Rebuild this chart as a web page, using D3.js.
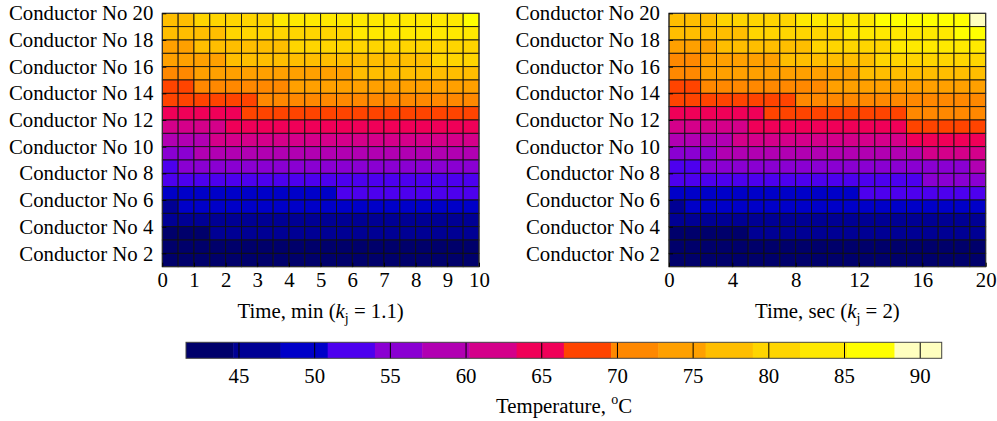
<!DOCTYPE html>
<html>
<head>
<meta charset="utf-8">
<script src="https://cdn.jsdelivr.net/npm/d3@7/dist/d3.min.js"></script>
<style>
  body { margin: 0; background: #fff; }
  svg { display: block; font-family: "Liberation Serif", "Times New Roman", serif; }
</style>
</head>
<body>
<div id="chart"></div>
<script>
// conductor numbers at the grid vertices (pcolor style, 19 cell rows)
const conductors = [1, 2, 3, 4, 5, 6, 7, 8, 9, 10, 11, 12, 13, 14, 15, 16, 17, 18, 19, 20];
const conductorTicks = [2, 4, 6, 8, 10, 12, 14, 16, 18, 20];

// time vertices for the two maps
const timeMin = [0, 0.5, 1, 1.5, 2, 2.5, 3, 3.5, 4, 4.5, 5, 5.5, 6, 6.5, 7, 7.5, 8, 8.5, 9, 9.5, 10];
const timeSec = [0, 1, 2, 3, 4, 5, 6, 7, 8, 9, 10, 11, 12, 13, 14, 15, 16, 17, 18, 19, 20];
const timeMinTicks = [0, 1, 2, 3, 4, 5, 6, 7, 8, 9, 10];
const timeSecTicks = [0, 4, 8, 12, 16, 20];

// temperatures, first row = top of the map (conductor 19-20), last row = conductor 1-2
const tempMin = [
  [77.2, 78.4, 79.3, 79.9, 80.5, 81.0, 81.6, 82.3, 82.7, 83.0, 83.3, 83.6, 83.8, 84.0, 84.2, 84.4, 84.6, 84.8, 85.0, 85.4],
  [76.3, 77.1, 77.9, 78.6, 79.2, 79.7, 80.1, 80.5, 80.9, 81.2, 81.5, 81.9, 82.2, 82.5, 82.8, 83.0, 83.3, 83.5, 83.7, 83.9],
  [74.6, 75.5, 76.2, 76.8, 77.3, 77.8, 78.3, 78.8, 79.1, 79.4, 79.7, 80.0, 80.3, 80.5, 80.7, 81.0, 81.2, 81.4, 81.6, 81.8],
  [73.1, 74.0, 74.8, 75.5, 76.1, 76.5, 76.9, 77.2, 77.5, 77.7, 77.9, 78.1, 78.3, 78.4, 78.6, 78.7, 78.8, 79.1, 79.3, 79.5],
  [70.8, 72.0, 73.0, 73.6, 74.0, 74.4, 74.7, 74.9, 75.1, 75.3, 75.5, 75.7, 76.0, 76.2, 76.4, 76.6, 76.8, 77.0, 77.1, 77.3],
  [67.4, 69.0, 69.9, 70.6, 71.2, 71.7, 72.1, 72.5, 72.9, 73.2, 73.5, 73.8, 74.0, 74.2, 74.4, 74.6, 74.8, 75.0, 75.2, 75.4],
  [66.7, 67.3, 67.9, 68.4, 68.9, 69.3, 69.7, 70.0, 70.3, 70.6, 70.9, 71.1, 71.3, 71.5, 71.7, 71.9, 72.0, 72.2, 72.3, 72.5],
  [63.6, 64.4, 65.1, 65.7, 66.2, 66.6, 66.9, 67.2, 67.5, 67.7, 67.9, 68.1, 68.3, 68.5, 68.6, 68.8, 68.9, 69.1, 69.2, 69.4],
  [60.6, 61.6, 62.4, 63.0, 63.5, 63.9, 64.2, 64.5, 64.7, 64.9, 65.1, 65.3, 65.4, 65.6, 65.7, 65.8, 65.9, 66.0, 66.1, 66.2],
  [57.8, 58.9, 59.8, 60.5, 60.9, 61.2, 61.5, 61.7, 61.9, 62.1, 62.3, 62.4, 62.5, 62.6, 62.7, 62.8, 62.9, 63.0, 63.1, 63.2],
  [55.2, 56.6, 57.4, 57.8, 58.1, 58.4, 58.6, 58.8, 59.0, 59.1, 59.2, 59.3, 59.4, 59.5, 59.6, 59.7, 59.8, 59.9, 60.0, 60.1],
  [52.8, 54.3, 54.8, 55.2, 55.5, 55.7, 55.9, 56.0, 56.1, 56.2, 56.3, 56.4, 56.5, 56.6, 56.6, 56.7, 56.7, 56.8, 56.8, 56.9],
  [51.2, 51.8, 52.2, 52.5, 52.7, 52.9, 53.0, 53.1, 53.2, 53.3, 53.4, 53.4, 53.5, 53.5, 53.6, 53.6, 53.7, 53.7, 53.8, 53.8],
  [48.3, 48.9, 49.3, 49.6, 49.8, 50.0, 50.1, 50.2, 50.3, 50.4, 50.6, 51.0, 51.1, 51.2, 51.3, 51.4, 51.5, 51.6, 51.7, 51.8],
  [46.9, 47.9, 48.3, 48.6, 48.8, 49.0, 49.1, 49.2, 49.3, 49.4, 49.5, 49.6, 49.6, 49.7, 49.7, 49.8, 49.8, 49.9, 49.9, 50.0],
  [45.0, 45.5, 45.8, 46.0, 46.2, 46.3, 46.4, 46.5, 46.6, 46.7, 46.7, 46.8, 46.8, 46.9, 46.9, 47.0, 47.0, 47.1, 47.1, 47.2],
  [43.4, 44.0, 44.4, 44.8, 45.0, 45.2, 45.3, 45.4, 45.5, 45.6, 45.6, 45.7, 45.7, 45.8, 45.8, 45.9, 45.9, 46.0, 46.0, 46.1],
  [42.2, 42.6, 42.9, 43.1, 43.3, 43.4, 43.5, 43.6, 43.7, 43.8, 43.8, 43.9, 43.9, 44.0, 44.0, 44.1, 44.1, 44.2, 44.2, 44.3],
  [41.6, 41.8, 42.0, 42.1, 42.2, 42.3, 42.4, 42.5, 42.5, 42.6, 42.6, 42.7, 42.7, 42.8, 42.8, 42.9, 42.9, 43.0, 43.0, 43.1]
];

const tempSec = [
  [76.4, 77.6, 78.6, 79.3, 79.9, 80.5, 81.0, 81.6, 82.3, 82.9, 83.5, 84.0, 84.6, 85.4, 86.1, 86.7, 87.2, 87.7, 88.1, 88.8],
  [76.0, 76.8, 77.5, 78.1, 78.7, 79.2, 79.7, 80.2, 80.7, 81.2, 81.7, 82.2, 82.7, 83.2, 83.7, 84.2, 84.6, 85.0, 85.5, 86.0],
  [74.2, 75.0, 75.6, 76.2, 76.8, 77.3, 77.8, 78.3, 78.8, 79.3, 79.8, 80.3, 80.8, 81.4, 82.2, 82.6, 83.0, 83.4, 83.8, 84.2],
  [71.0, 72.2, 73.0, 73.7, 74.3, 74.9, 75.5, 76.1, 76.7, 77.2, 77.7, 78.2, 78.7, 79.2, 79.7, 80.2, 80.7, 81.1, 81.5, 81.9],
  [70.2, 71.6, 72.9, 73.4, 73.8, 74.1, 74.4, 74.7, 75.0, 75.2, 75.5, 75.7, 76.0, 76.4, 76.8, 77.2, 77.6, 78.0, 78.3, 78.6],
  [67.2, 68.8, 69.8, 70.3, 70.8, 71.2, 71.6, 72.0, 72.3, 72.6, 73.0, 73.4, 73.8, 74.2, 74.5, 74.8, 75.1, 75.3, 75.5, 75.7],
  [66.6, 67.1, 67.6, 68.0, 68.4, 68.8, 69.1, 69.4, 69.7, 70.0, 70.3, 70.6, 70.9, 71.2, 71.4, 71.7, 71.9, 72.1, 72.3, 72.5],
  [63.5, 64.2, 64.8, 65.3, 65.8, 66.2, 66.6, 67.0, 67.4, 67.8, 68.1, 68.5, 68.8, 69.1, 69.4, 69.7, 70.0, 70.3, 70.6, 70.9],
  [60.5, 61.3, 62.0, 62.6, 63.1, 63.5, 63.9, 64.3, 64.7, 65.0, 65.3, 65.6, 65.9, 66.1, 66.3, 66.6, 66.9, 67.2, 67.5, 67.8],
  [57.5, 58.4, 59.2, 59.9, 60.5, 60.9, 61.3, 61.6, 61.9, 62.2, 62.4, 62.6, 62.8, 63.0, 63.2, 63.5, 63.8, 64.1, 64.4, 64.7],
  [54.6, 55.7, 56.7, 57.4, 57.9, 58.3, 58.6, 58.9, 59.1, 59.3, 59.5, 59.6, 59.8, 59.9, 60.0, 60.1, 60.5, 60.8, 61.1, 61.4],
  [52.4, 53.5, 54.2, 54.6, 54.9, 55.2, 55.4, 55.6, 55.8, 56.0, 56.1, 56.2, 56.3, 56.4, 56.5, 56.6, 56.7, 56.8, 56.9, 57.3],
  [51.1, 51.5, 51.8, 52.1, 52.4, 52.6, 52.8, 53.0, 53.1, 53.2, 53.3, 53.4, 53.5, 53.6, 53.7, 53.8, 54.2, 54.4, 54.6, 54.8],
  [48.2, 48.8, 49.2, 49.5, 49.8, 50.0, 50.1, 50.2, 50.3, 50.4, 50.5, 50.6, 51.0, 51.2, 51.4, 51.6, 51.8, 52.0, 52.2, 52.4],
  [47.0, 48.0, 48.5, 48.8, 49.0, 49.2, 49.3, 49.4, 49.5, 49.6, 49.7, 49.8, 49.9, 50.0, 50.1, 50.2, 50.3, 50.4, 50.5, 50.6],
  [44.9, 45.4, 45.7, 45.9, 46.1, 46.2, 46.3, 46.4, 46.5, 46.6, 46.7, 46.8, 46.9, 47.0, 47.1, 47.2, 47.3, 47.4, 47.5, 47.6],
  [43.2, 43.7, 44.0, 44.3, 44.5, 44.8, 45.0, 45.2, 45.3, 45.4, 45.5, 45.6, 45.7, 45.8, 45.9, 46.0, 46.1, 46.2, 46.3, 46.4],
  [42.0, 42.4, 42.7, 42.9, 43.1, 43.3, 43.4, 43.5, 43.6, 43.7, 43.8, 43.9, 44.0, 44.0, 44.1, 44.1, 44.2, 44.2, 44.3, 44.3],
  [41.6, 41.8, 42.0, 42.1, 42.2, 42.3, 42.4, 42.5, 42.5, 42.6, 42.7, 42.7, 42.8, 42.8, 42.9, 42.9, 43.0, 43.0, 43.1, 43.1]
];

// colour bar: 16 flat levels between the limits
const tempLimits = [41.5, 91.42];
const levelColors = ["#00006b", "#000094", "#0000c8", "#4d00ee", "#8a00d2", "#b100b2", "#d4008a", "#f00058",
                     "#ff4400", "#ff8800", "#ffa000", "#ffbe00", "#ffd500", "#ffe900", "#ffff00", "#ffffbf"];
const colorbarTicks = [45, 50, 55, 60, 65, 70, 75, 80, 85, 90];

const W = 997, H = 421;
const plotTop = 13.3, plotBottom = 266.7;
const fontSize = 20.8;

const svg = d3.select("#chart")
  .append("svg")
  .attr("width", W)
  .attr("height", H);

const color = d3.scaleQuantize().domain(tempLimits).range(levelColors);

const yScale = d3.scaleLinear()
  .domain([conductors[0], conductors[conductors.length - 1]])
  .range([plotBottom, plotTop]);

function drawMap(left, right, times, ticks, rows, unit, kj) {
  const xScale = d3.scaleLinear()
    .domain([times[0], times[times.length - 1]])
    .range([left, right]);

  const g = svg.append("g");
  const nTop = conductors.length - 1;

  const cells = rows.flatMap((row, k) => row.map((v, j) => ({ k, j, v })));

  g.selectAll("rect.cell")
    .data(cells)
    .enter()
    .append("rect")
    .attr("class", "cell")
    .attr("x", d => xScale(times[d.j]))
    .attr("y", d => yScale(conductors[nTop - d.k]))
    .attr("width", d => xScale(times[d.j + 1]) - xScale(times[d.j]))
    .attr("height", d => yScale(conductors[nTop - d.k - 1]) - yScale(conductors[nTop - d.k]))
    .attr("fill", d => color(d.v))
    .attr("stroke", "#111")
    .attr("stroke-width", 0.9);

  // box
  g.append("rect")
    .attr("x", left).attr("y", plotTop)
    .attr("width", right - left).attr("height", plotBottom - plotTop)
    .attr("fill", "none")
    .attr("stroke", "#333")
    .attr("stroke-width", 1);

  const yAxis = d3.axisLeft(yScale)
    .tickValues(conductorTicks)
    .tickFormat(d => "Conductor No " + d)
    .tickSizeInner(-4)
    .tickSizeOuter(0)
    .tickPadding(9);

  const xAxis = d3.axisBottom(xScale)
    .tickValues(ticks)
    .tickSizeInner(-4)
    .tickSizeOuter(0)
    .tickPadding(6);

  const ya = g.append("g")
    .attr("transform", "translate(" + left + ",0)")
    .call(yAxis);
  const xa = g.append("g")
    .attr("transform", "translate(0," + plotBottom + ")")
    .call(xAxis);

  [ya, xa].forEach(a => {
    a.select(".domain").remove();
    a.selectAll("text")
      .attr("fill", "#000")
      .style("font-size", fontSize + "px")
      .style("font-family", '"Liberation Serif", "Times New Roman", serif');
    a.selectAll("line").attr("stroke", "#000");
  });

  // axis title: Time, min (k_j = 1.1)
  const t = g.append("text")
    .attr("x", (left + right) / 2)
    .attr("y", 318)
    .attr("text-anchor", "middle")
    .style("font-size", fontSize + "px");
  t.append("tspan").text("Time, " + unit + " (");
  t.append("tspan").style("font-style", "italic").text("k");
  t.append("tspan").attr("dy", 5).style("font-size", "14px").text("j");
  t.append("tspan").attr("dy", -5).text(" = " + kj + ")");
}

drawMap(162.3, 479, timeMin, timeMinTicks, tempMin, "min", "1.1");
drawMap(669, 985.7, timeSec, timeSecTicks, tempSec, "sec", "2");

// colour bar
const cbX = d3.scaleLinear().domain(tempLimits).range([186, 941.7]);
const cbY = 342.3, cbH = 16;
const cb = svg.append("g");

cb.selectAll("rect.level")
  .data(levelColors)
  .enter()
  .append("rect")
  .attr("class", "level")
  .attr("x", c => cbX(color.invertExtent(c)[0]))
  .attr("y", cbY)
  .attr("width", c => cbX(color.invertExtent(c)[1]) - cbX(color.invertExtent(c)[0]) + 0.5)
  .attr("height", cbH)
  .attr("fill", c => c);

cb.selectAll("line.tick")
  .data(colorbarTicks)
  .enter()
  .append("line")
  .attr("class", "tick")
  .attr("x1", d => cbX(d)).attr("x2", d => cbX(d))
  .attr("y1", cbY).attr("y2", cbY + cbH)
  .attr("stroke", "#000")
  .attr("stroke-width", 1);

cb.append("rect")
  .attr("x", 186).attr("y", cbY)
  .attr("width", 941.7 - 186).attr("height", cbH)
  .attr("fill", "none")
  .attr("stroke", "#444")
  .attr("stroke-width", 1);

cb.selectAll("text.tl")
  .data(colorbarTicks)
  .enter()
  .append("text")
  .attr("class", "tl")
  .attr("x", d => cbX(d))
  .attr("y", 383)
  .attr("text-anchor", "middle")
  .style("font-size", fontSize + "px")
  .text(d => d);

const ct = svg.append("text")
  .attr("x", 564)
  .attr("y", 413)
  .attr("text-anchor", "middle")
  .style("font-size", fontSize + "px");
ct.append("tspan").text("Temperature, ");
ct.append("tspan").attr("dy", -9).style("font-size", "14px").text("o");
ct.append("tspan").attr("dy", 9).text("C");
</script>
</body>
</html>
